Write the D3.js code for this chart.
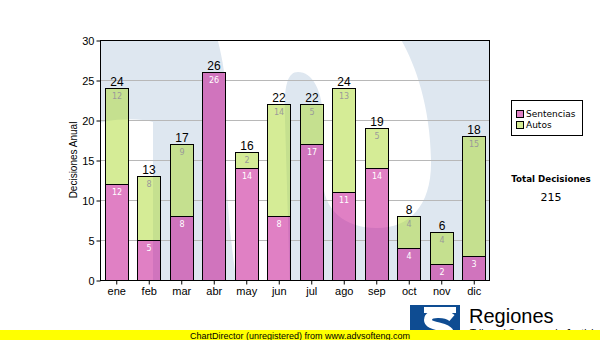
<!DOCTYPE html>
<html>
<head>
<meta charset="utf-8">
<script src="https://cdn.jsdelivr.net/npm/d3@7/dist/d3.min.js"></script>
<style>
  html, body { margin: 0; padding: 0; background: #ffffff; }
  svg { display: block; }
</style>
</head>
<body>
<script>
// Monthly decisions, split by type
const months = ["ene", "feb", "mar", "abr", "may", "jun", "jul", "ago", "sep", "oct", "nov", "dic"];
const sentencias = [12, 5, 8, 26, 14, 8, 17, 11, 14, 4, 2, 3];
const autos = [12, 8, 9, 0, 2, 14, 5, 13, 5, 4, 4, 15];
const yTicks = [0, 5, 10, 15, 20, 25, 30];
const seriesNames = ["Sentencias", "Autos"];
const yTitle = "Decisiones Anual";
const totalTitle = "Total Decisiones";

const W = 600, H = 340;
const plot = { left: 100, top: 40, right: 490, bottom: 280 };
const FONT = "'Liberation Sans', Arial, sans-serif";
const FONT2 = "'DejaVu Sans', Verdana, sans-serif";

const seriesFill = { Sentencias: "#c1018a", Autos: "#acd92d" };
const seriesLabel = { Sentencias: "#ffffff", Autos: "#9a9a9a" };
const legendSwatch = { Sentencias: "#e080c4", Autos: "#d6ec96" };

const rows = months.map((m, i) => ({ month: m, Sentencias: sentencias[i], Autos: autos[i] }));
const totals = rows.map(r => r.Sentencias + r.Autos);
const grandTotal = d3.sum(totals);

const svg = d3.select("body").append("svg").attr("width", W).attr("height", H);
const defs = svg.append("defs");

const x = d3.scaleBand().domain(months).range([plot.left, plot.right])
  .paddingInner(0.28).paddingOuter(0.14);
const y = d3.scaleLinear().domain([0, 30]).range([plot.bottom, plot.top]);

const stacked = d3.stack().keys(seriesNames)(rows);

// Plot clip
defs.append("clipPath").attr("id", "plotClip")
  .append("rect").attr("x", plot.left).attr("y", plot.top)
  .attr("width", plot.right - plot.left).attr("height", plot.bottom - plot.top);

// Background: pale blue with the large white "S" emblem
const bg = defs.append("g").attr("id", "plotBg");
bg.append("rect").attr("x", plot.left).attr("y", plot.top)
  .attr("width", plot.right - plot.left).attr("height", plot.bottom - plot.top)
  .attr("fill", "#dee7f0");
bg.append("path").attr("fill", "#ffffff")
  .attr("d", "M215,30 L395,30 C412,55 430,100 431,160 C432,205 410,228 377,228 C345,228 323,210 323,180 L323,120 C323,90 312,72 298,72 C286,72 284,90 285,120 L290,290 L238,290 C228,230 224,170 226,110 C227,80 222,55 215,30 Z");
bg.append("path").attr("fill", "#ffffff")
  .attr("d", "M95,290 L95,124 C115,118 140,118 153,122 L153,290 Z");

svg.append("g").attr("clip-path", "url(#plotClip)")
  .append("use").attr("href", "#plotBg");

// Horizontal grid
svg.append("g").selectAll("line")
  .data(yTicks.filter(t => t > 0 && t < 30))
  .join("line")
  .attr("x1", plot.left).attr("x2", plot.right)
  .attr("y1", d => Math.round(y(d)) + 0.5).attr("y2", d => Math.round(y(d)) + 0.5)
  .attr("stroke", "#b8b8b8").attr("stroke-width", 1);

// Bars sit on the background only (grid hidden behind them)
const bx = m => Math.round(x(m));
const bw = Math.round(x.bandwidth());
const barClip = defs.append("clipPath").attr("id", "barClip");
rows.forEach((r, i) => {
  barClip.append("rect").attr("x", bx(r.month)).attr("y", y(totals[i]))
    .attr("width", bw + 1).attr("height", y(0) - y(totals[i]) + 1);
});
svg.append("g").attr("clip-path", "url(#barClip)")
  .append("use").attr("href", "#plotBg");

const barG = svg.append("g");
stacked.forEach(layer => {
  const key = layer.key;
  barG.append("g").selectAll("rect")
    .data(layer.filter(d => d[1] - d[0] > 0))
    .join("rect")
    .attr("x", d => bx(d.data.month) + 0.5)
    .attr("y", d => Math.round(y(d[1])) + 0.5)
    .attr("width", bw)
    .attr("height", d => Math.round(y(d[0])) - Math.round(y(d[1])))
    .attr("fill", seriesFill[key]).attr("fill-opacity", 0.5)
    .attr("stroke", "#000000").attr("stroke-width", 1);
});

// Segment value labels
stacked.forEach(layer => {
  const key = layer.key;
  barG.append("g").selectAll("text")
    .data(layer.filter(d => d[1] - d[0] > 0))
    .join("text")
    .attr("x", d => bx(d.data.month) + bw / 2 + 0.5)
    .attr("y", d => y(d[1]) + 11)
    .attr("text-anchor", "middle")
    .attr("font-family", FONT2).attr("font-size", 8)
    .attr("fill", seriesLabel[key])
    .text(d => d[1] - d[0]);
});

// Totals above bars
barG.append("g").selectAll("text")
  .data(rows)
  .join("text")
  .attr("x", d => bx(d.month) + bw / 2 + 0.5)
  .attr("y", (d, i) => y(totals[i]) - 2)
  .attr("text-anchor", "middle")
  .attr("font-family", FONT).attr("font-size", 12)
  .attr("fill", "#000000")
  .text((d, i) => totals[i]);

// Plot frame
svg.append("rect").attr("x", plot.left + 0.5).attr("y", plot.top + 0.5)
  .attr("width", plot.right - plot.left - 1).attr("height", plot.bottom - plot.top)
  .attr("fill", "none").attr("stroke", "#000000").attr("stroke-width", 1);

// Axes
const yAxis = d3.axisLeft(y).tickValues(yTicks).tickSize(4).tickPadding(2);
const gy = svg.append("g").attr("transform", `translate(${plot.left + 0.5},0.5)`).call(yAxis);
gy.select(".domain").remove();
gy.selectAll("line").attr("stroke", "#000");
gy.selectAll("text").attr("font-family", FONT).attr("font-size", 11).attr("fill", "#000");

const xAxis = d3.axisBottom(x).tickSize(4).tickPadding(3);
const gx = svg.append("g").attr("transform", `translate(0.5,${plot.bottom + 0.5})`).call(xAxis);
gx.select(".domain").remove();
gx.selectAll("line").attr("stroke", "#000");
gx.selectAll("text").attr("font-family", FONT).attr("font-size", 11).attr("fill", "#000");

svg.append("text")
  .attr("transform", `translate(77,${(plot.top + plot.bottom) / 2}) rotate(-90)`)
  .attr("text-anchor", "middle")
  .attr("font-family", FONT).attr("font-size", 10).attr("fill", "#000")
  .text(yTitle);

// Legend
const lg = svg.append("g");
lg.append("rect").attr("x", 511.5).attr("y", 100.5).attr("width", 71).attr("height", 35)
  .attr("fill", "#ffffff").attr("stroke", "#000000");
seriesNames.forEach((name, i) => {
  const cy = 114 + i * 11;
  lg.append("rect").attr("x", 516.5).attr("y", cy - 3.5).attr("width", 7).attr("height", 7)
    .attr("fill", legendSwatch[name]).attr("stroke", "#000");
  lg.append("text").attr("x", 526).attr("y", cy + 3)
    .attr("font-family", FONT2).attr("font-size", 9).attr("fill", "#000").text(name);
});

svg.append("text").attr("x", 551).attr("y", 181.5).attr("text-anchor", "middle")
  .attr("font-family", FONT2).attr("font-size", 8.7).attr("font-weight", "bold")
  .attr("fill", "#000").text(totalTitle);
svg.append("text").attr("x", 551).attr("y", 200.5).attr("text-anchor", "middle")
  .attr("font-family", FONT2).attr("font-size", 11).attr("fill", "#000").text(grandTotal);

// Emblem and caption at the bottom
const logo = svg.append("g");
logo.append("rect").attr("x", 410).attr("y", 305).attr("width", 50).attr("height", 35).attr("fill", "#0e4c92");
logo.append("rect").attr("x", 424).attr("y", 307).attr("width", 32).attr("height", 6).attr("fill", "#ffffff");
logo.append("path").attr("fill", "none").attr("stroke", "#ffffff").attr("stroke-width", 8)
  .attr("d", "M452,318 C446,313 428,312 428,320 C428,328 450,325 450,334 C450,342 432,342 422,338");
logo.append("text").attr("x", 469).attr("y", 323)
  .attr("font-family", FONT).attr("font-size", 20).attr("fill", "#000").text("Regiones");
logo.append("text").attr("x", 470).attr("y", 337)
  .attr("font-family", FONT).attr("font-size", 10).attr("fill", "#000").text("Tribunal Supremo de Justicia");

// Footer strip
svg.append("rect").attr("x", 0).attr("y", 330).attr("width", W).attr("height", 10).attr("fill", "#ffff00");
svg.append("text").attr("x", 190).attr("y", 338.5)
  .attr("font-family", FONT).attr("font-size", 9).attr("fill", "#000")
  .text("ChartDirector (unregistered) from www.advsofteng.com");
</script>
</body>
</html>
